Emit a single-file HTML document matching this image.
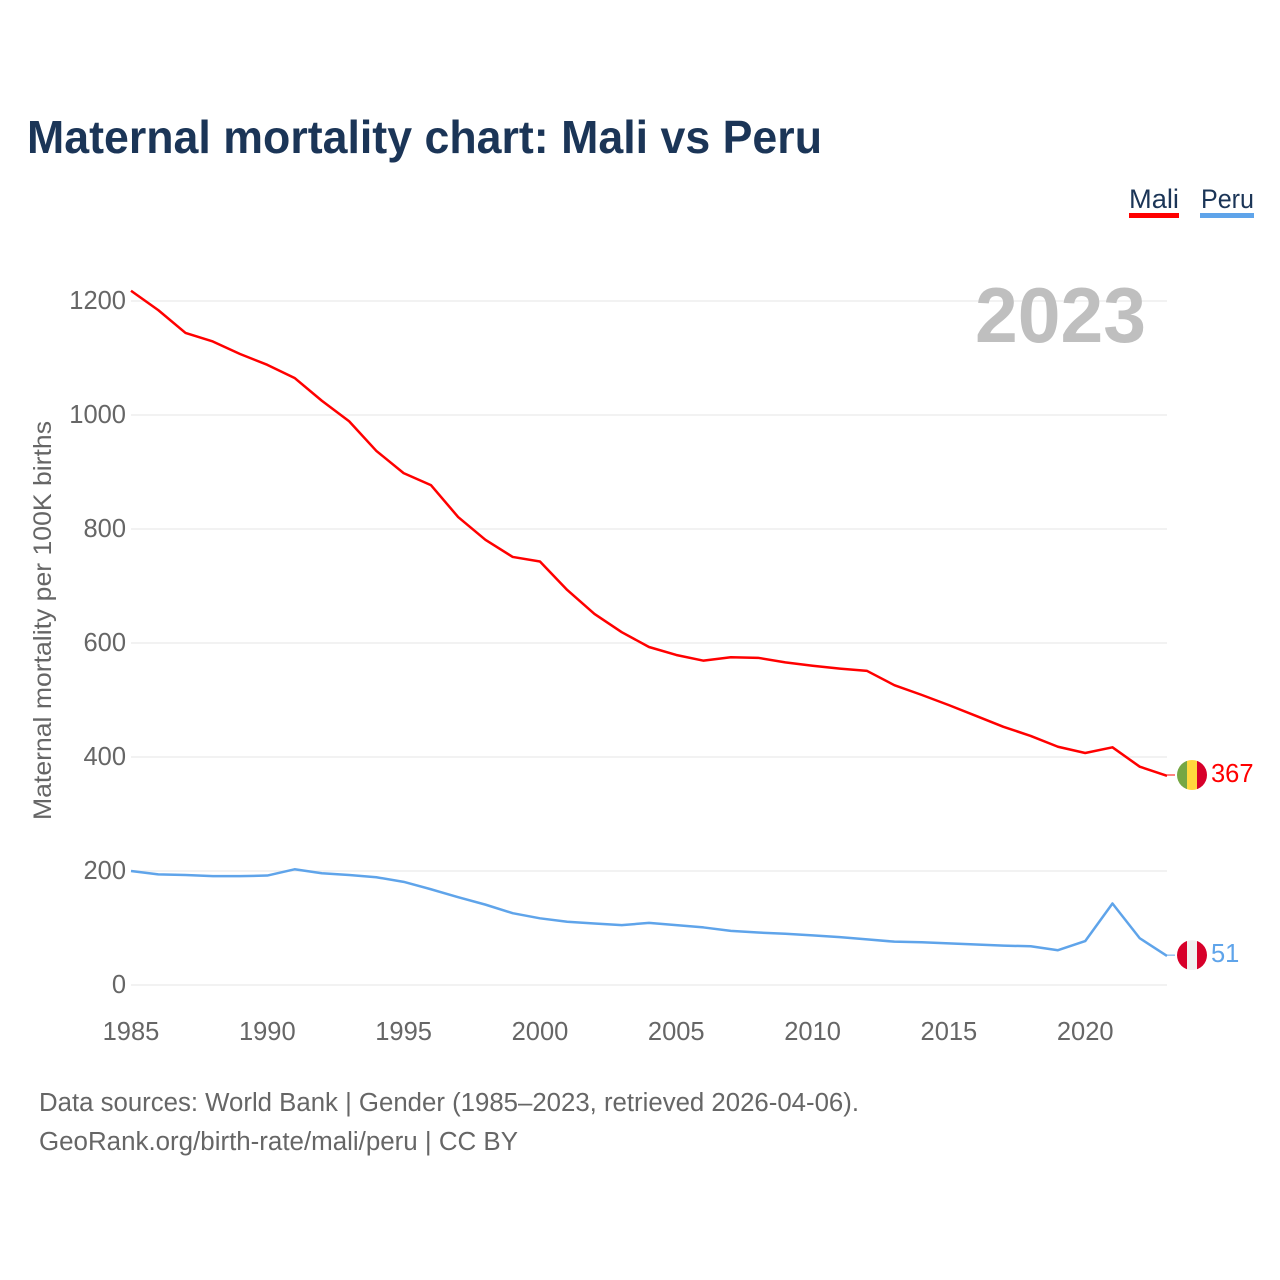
<!DOCTYPE html>
<html lang="en">
<head>
<meta charset="utf-8">
<title>Maternal mortality chart: Mali vs Peru</title>
<style>
html,body{margin:0;padding:0;background:#fff;width:1280px;height:1280px;overflow:hidden}
svg{display:block}
text{font-family:"Liberation Sans",sans-serif}
</style>
</head>
<body>
<svg id="chart" width="1280" height="1280" viewBox="0 0 1280 1280" xmlns="http://www.w3.org/2000/svg">
  <rect width="1280" height="1280" fill="#fff"/>
  <text x="27" y="153" font-size="46" font-weight="700" fill="#1b3557" textLength="795" lengthAdjust="spacingAndGlyphs">Maternal mortality chart: Mali vs Peru</text>

  <g>
    <text x="1129" y="208" font-size="27" fill="#1b3557" textLength="50" lengthAdjust="spacingAndGlyphs">Mali</text>
    <rect x="1129" y="213" width="50" height="5" fill="#ff0000"/>
  </g>
  <g>
    <text x="1201" y="208" font-size="27" fill="#1b3557" textLength="53" lengthAdjust="spacingAndGlyphs">Peru</text>
    <rect x="1200" y="213" width="54" height="5" fill="#5fa4ea"/>
  </g>

  <g id="grid"></g>
  <g id="yticks"></g>
  <g id="xticks"></g>

  <text x="1146" y="342" text-anchor="end" font-size="78" font-weight="700" fill="#bfbfbf" textLength="171" lengthAdjust="spacingAndGlyphs">2023</text>

  <text transform="translate(51,820) rotate(-90)" font-size="25" fill="#666" textLength="399" lengthAdjust="spacingAndGlyphs">Maternal mortality per 100K births</text>

  <g id="series"></g>

  <defs>
    <clipPath id="flag-clip-mali"><circle id="clip-mali" cx="1192" cy="775" r="15"/></clipPath>
    <clipPath id="flag-clip-peru"><circle id="clip-peru" cx="1192" cy="955" r="15"/></clipPath>
  </defs>
  <g id="flag-mali" clip-path="url(#flag-clip-mali)">
    <rect class="f" data-dx="-15" width="10" height="30" fill="#75a743"/>
    <rect class="f" data-dx="-5" width="10" height="30" fill="#ffd83d"/>
    <rect class="f" data-dx="5" width="10" height="30" fill="#d7002a"/>
  </g>
  <g id="flag-peru" clip-path="url(#flag-clip-peru)">
    <rect class="f" data-dx="-15" width="10" height="30" fill="#d7002a"/>
    <rect class="f" data-dx="-5" width="10" height="30" fill="#f0f0f0"/>
    <rect class="f" data-dx="5" width="10" height="30" fill="#d7002a"/>
  </g>
  <text id="value-mali" x="1211" font-size="25.5" fill="#ff0000"></text>
  <text id="value-peru" x="1211" font-size="25.5" fill="#5fa4ea"></text>

  <text x="39" y="1111" font-size="25.5" fill="#666" textLength="820" lengthAdjust="spacingAndGlyphs">Data sources: World Bank | Gender (1985–2023, retrieved 2026-04-06).</text>
  <text x="39" y="1150" font-size="25.5" fill="#666" textLength="479" lengthAdjust="spacingAndGlyphs">GeoRank.org/birth-rate/mali/peru | CC BY</text>
</svg>
<script>
const years = [1985,1986,1987,1988,1989,1990,1991,1992,1993,1994,1995,1996,1997,1998,1999,2000,2001,2002,2003,2004,2005,2006,2007,2008,2009,2010,2011,2012,2013,2014,2015,2016,2017,2018,2019,2020,2021,2022,2023];
const maliValues = [1218,1184,1144,1129,1107,1088,1065,1025,989,937,898,877,821,781,751,743,693,651,619,593,579,569,575,574,566,560,555,551,526,509,491,472,453,437,418,407,417,383,367];
const peruValues = [200,194,193,191,191,192,203,196,193,189,181,168,154,141,126,117,111,108,105,109,105,101,95,92,90,87,84,80,76,75,73,71,69,68,61,77,143,82,51];
const yTickValues = [0,200,400,600,800,1000,1200];
const xTickValues = [1985,1990,1995,2000,2005,2010,2015,2020];

const NS = 'http://www.w3.org/2000/svg';
const xScale = function (year) { return 131 + (year - 1985) * (1167 - 131) / 38; };
const yScale = function (value) { return 985 - value * 0.57; };
const mk = function (tag, parent) {
  const el = document.createElementNS(NS, tag);
  document.getElementById(parent).appendChild(el);
  return el;
};

yTickValues.forEach(function (v) {
  const line = mk('line', 'grid');
  
  
  line.setAttribute('x1', 131);
  line.setAttribute('x2', 1167);
  line.setAttribute('y1', yScale(v));
  line.setAttribute('y2', yScale(v));
  line.setAttribute('stroke', '#eeeeee');
  line.setAttribute('stroke-width', '1.5');

  const label = mk('text', 'yticks');
  
  
  label.setAttribute('x', 126);
  label.setAttribute('y', yScale(v) + 8);
  label.setAttribute('text-anchor', 'end');
  label.setAttribute('font-size', '25.5');
  label.setAttribute('fill', '#666');
  label.textContent = v;
});

xTickValues.forEach(function (y) {
  const label = mk('text', 'xticks');
  
  
  label.setAttribute('x', xScale(y));
  label.setAttribute('y', 1040);
  label.setAttribute('text-anchor', 'middle');
  label.setAttribute('font-size', '25.5');
  label.setAttribute('fill', '#666');
  label.textContent = y;
});

const drawSeries = function (values, color, key) {
  const pts = values.map(function (v, i) { return xScale(years[i]).toFixed(2) + ',' + yScale(v).toFixed(2); }).join(' ');
  const poly = mk('polyline', 'series');
  
  
  poly.setAttribute('points', pts);
  poly.setAttribute('fill', 'none');
  poly.setAttribute('stroke', color);
  poly.setAttribute('stroke-width', '2.5');
  poly.setAttribute('stroke-linejoin', 'round');

  const last = values[values.length - 1];
  const endY = yScale(last) - 0.8;
  const connector = mk('line', 'series');
  
  
  connector.setAttribute('x1', 1167);
  connector.setAttribute('x2', 1175);
  connector.setAttribute('y1', endY);
  connector.setAttribute('y2', endY);
  connector.setAttribute('stroke', color);
  connector.setAttribute('stroke-width', '1');

  document.getElementById('clip-' + key).setAttribute('cy', endY);
  document.querySelectorAll('#flag-' + key + ' rect').forEach(function (r) {
    r.setAttribute('x', 1192 + Number(r.getAttribute('data-dx')));
    r.setAttribute('y', endY - 15);
  });
  const valueLabel = document.getElementById('value-' + key);
  valueLabel.setAttribute('y', endY + 7);
  valueLabel.textContent = last;
};

drawSeries(maliValues, '#ff0000', 'mali');
drawSeries(peruValues, '#5fa4ea', 'peru');
</script>
</body>
</html>
